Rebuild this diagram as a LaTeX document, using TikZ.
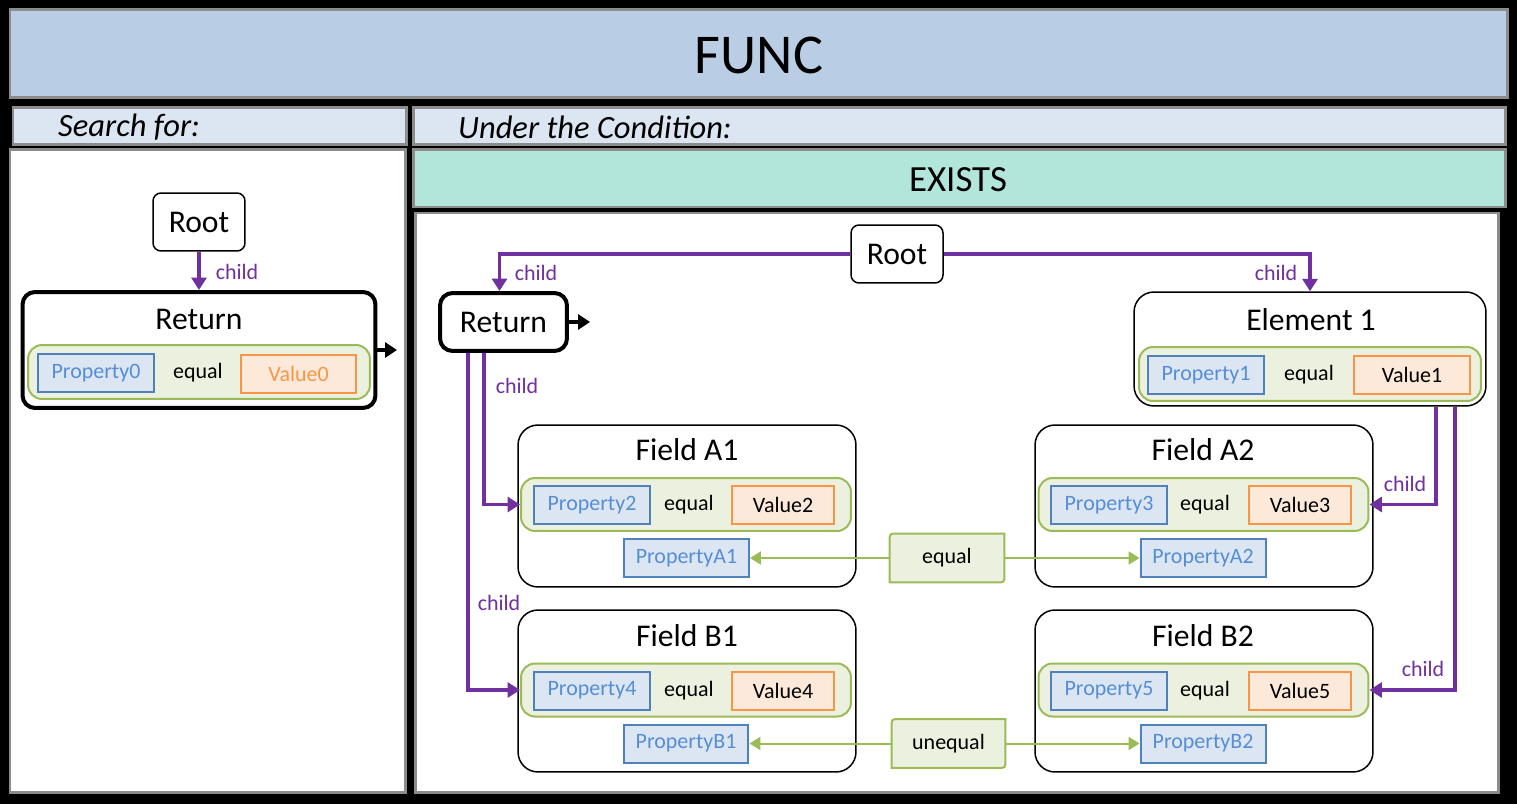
\documentclass[tikz,border=0pt]{standalone}
\usepackage{fontspec}
\setmainfont{Carlito}
\usetikzlibrary{positioning,calc,arrows.meta}

\definecolor{funcblue}{RGB}{185,205,229}
\definecolor{headblue}{RGB}{220,230,242}
\definecolor{existsgreen}{RGB}{179,230,218}
\definecolor{childpurple}{RGB}{112,48,160}
\definecolor{condgreen}{RGB}{155,187,89}
\definecolor{condfill}{RGB}{235,241,222}
\definecolor{propline}{RGB}{79,129,189}
\definecolor{propfill}{RGB}{220,230,242}
\definecolor{proptext}{RGB}{85,142,213}
\definecolor{valline}{RGB}{247,150,70}
\definecolor{valfill}{RGB}{253,233,217}

\tikzset{
  bandedge/.style={draw=black!45, line width=0.06cm},
  titletext/.style={font=\fontsize{32}{38}\selectfont},
  headtext/.style={font=\fontsize{18.5}{22}\selectfont\itshape},
  existstext/.style={font=\fontsize{21}{25}\selectfont},
  bigtext/.style={font=\fontsize{18}{22}\selectfont},
  smalltext/.style={font=\fontsize{12.5}{15}\selectfont},
  rootbox/.style={draw, fill=white, line width=0.03cm, rounded corners=0.16cm, minimum width=1.84cm, minimum height=1.16cm, bigtext},
  retbox/.style={draw, fill=white, line width=0.08cm, rounded corners=0.25cm, bigtext},
  fieldbox/.style={draw, line width=0.03cm, rounded corners=0.4cm, minimum width=6.76cm, minimum height=3.24cm},
  rowbox/.style={draw=condgreen, fill=condfill, line width=0.04cm, rounded corners=0.28cm, minimum width=6.6cm, minimum height=1.06cm},
  propbox/.style={draw=propline, fill=propfill, text=proptext, line width=0.04cm, inner sep=0pt, minimum width=2.32cm, minimum height=0.76cm, smalltext},
  valbox/.style={draw=valline, fill=valfill, line width=0.04cm, inner sep=0pt, minimum width=2.04cm, minimum height=0.76cm, smalltext},
  condnode/.style={minimum width=2.28cm, minimum height=0.96cm},
  childline/.style={draw=childpurple, line width=0.07cm, -{Triangle[length=0.25cm,width=0.3cm]}},
  childtext/.style={text=childpurple, smalltext},
  condline/.style={draw=condgreen, line width=0.04cm, -{Triangle[length=0.22cm,width=0.26cm]}},
  retarrow/.style={line width=0.08cm, -{Triangle[length=0.24cm,width=0.3cm]}},
}

% frame of a condition box: top left and bottom right corners rounded
\newcommand{\condframe}[1]{%
  \draw[condgreen, fill=condfill, line width=0.04cm] (#1.south west) -- ([yshift=-0.14cm]#1.north west)
    .. controls (#1.north west) .. ([xshift=0.14cm]#1.north west) -- (#1.north east)
    -- ([yshift=0.14cm]#1.south east) .. controls (#1.south east) .. ([xshift=-0.14cm]#1.south east) -- cycle;}

\begin{document}
\begin{tikzpicture}[x=0.02cm, y=-0.02cm]
  % Background and bands
  \fill[black] (0,0) rectangle (1517,804);
  \filldraw[fill=funcblue, bandedge] (10,10) rectangle (1507,98);
  \filldraw[fill=headblue, bandedge] (13,108) rectangle (406,145);
  \filldraw[fill=headblue, bandedge] (413,108) rectangle (1505,145);
  \filldraw[fill=white, bandedge] (10,150) rectangle (405,792);
  \filldraw[fill=existsgreen, bandedge] (413,150) rectangle (1505,207);
  \filldraw[fill=white, bandedge] (415,213) rectangle (1498,792);

  % Headers
  \node[titletext] (func) at (759,55) {FUNC};
  \node[headtext, anchor=west] (searchfor) at (52,127) {Search for:};
  \node[headtext, anchor=west] (condition) at (452,127) {Under the Condition:};
  \node[existstext] (exists) at (958,180) {EXISTS};

  % Search for
  \node[rootbox] (lroot) at (199,222) {Root};
  \node[retbox, minimum width=7.06cm, minimum height=2.32cm] (lret) at (199,350) {};
  \node[bigtext] (lrettitle) at (199,319) {Return};
  \node[rowbox, minimum width=6.84cm, minimum height=1.08cm] (lrow) at (199,372) {};
  \node[propbox] (prop0) at (96,373) {Property0};
  \node[smalltext] (leq) at (198,373) {equal};
  \node[valbox, minimum width=2.3cm, text=valline] (val0) at (298.5,374) {Value0};
  \draw[childline] (lroot.south) -- (lret.north);
  \node[childtext] (lchild) at (237,272) {child};
  \coordinate (lout) at (397,350);
  \draw[retarrow] (lret) -- (lout);

  % Under the condition: root and return
  \node[rootbox] (rroot) at (897,254) {Root};
  \node[retbox, minimum width=2.54cm, minimum height=1.16cm] (rret) at (503.5,322) {Return};
  \coordinate (rout) at (590,322);
  \draw[retarrow] (rret) -- (rout);

  % Element 1
  \node[fieldbox, minimum width=7.04cm, minimum height=2.28cm] (elem) at (1310,349) {};
  \node[bigtext] (elemtitle) at (1311,320) {Element 1};
  \node[rowbox, minimum width=6.84cm, minimum height=1.08cm] (elemrow) at (1310,374) {};
  \node[propbox] (prop1) at (1206,375) {Property1};
  \node[smalltext] (eq1) at (1309,375) {equal};
  \node[valbox, minimum width=2.32cm] (val1) at (1412,375) {Value1};

  % Field A1
  \node[fieldbox] (fa1) at (687,506) {};
  \node[bigtext] (fa1title) at (687,450) {Field A1};
  \node[rowbox] (rowa1) at (686,504.5) {};
  \node[propbox] (prop2) at (592,505) {Property2};
  \node[smalltext] (eq2) at (689,505) {equal};
  \node[valbox] (val2) at (783,505) {Value2};
  \node[propbox, minimum width=2.5cm] (pa1) at (686.5,558) {PropertyA1};

  % Field A2
  \node[fieldbox] (fa2) at (1204,506) {};
  \node[bigtext] (fa2title) at (1203,450) {Field A2};
  \node[rowbox] (rowa2) at (1203.5,504.5) {};
  \node[propbox] (prop3) at (1109,505) {Property3};
  \node[smalltext] (eq3) at (1205,505) {equal};
  \node[valbox] (val3) at (1300,505) {Value3};
  \node[propbox, minimum width=2.5cm] (pa2) at (1203,558) {PropertyA2};

  % Field B1
  \node[fieldbox] (fb1) at (687,691) {};
  \node[bigtext] (fb1title) at (687,636) {Field B1};
  \node[rowbox] (rowb1) at (686,690) {};
  \node[propbox] (prop4) at (592,690.5) {Property4};
  \node[smalltext] (eq4) at (689,690.5) {equal};
  \node[valbox] (val4) at (783,690.5) {Value4};
  \node[propbox, minimum width=2.5cm] (pb1) at (686,743.5) {PropertyB1};

  % Field B2
  \node[fieldbox] (fb2) at (1204,691) {};
  \node[bigtext] (fb2title) at (1203,636) {Field B2};
  \node[rowbox] (rowb2) at (1203.5,690) {};
  \node[propbox] (prop5) at (1109,690.5) {Property5};
  \node[smalltext] (eq5) at (1205,690.5) {equal};
  \node[valbox] (val5) at (1300,690.5) {Value5};
  \node[propbox, minimum width=2.5cm] (pb2) at (1203,743.5) {PropertyB2};

  % Conditions between fields
  \node[condnode] (eqa) at (947,558) {};
  \condframe{eqa}
  \node[smalltext] (eqatext) at (eqa) {equal};
  \draw[condline] (eqa.west) -- (pa1.east);
  \draw[condline] (eqa.east) -- (pa2.west);
  \node[condnode, minimum width=2.26cm] (uneqb) at (948.5,743.5) {};
  \condframe{uneqb}
  \node[smalltext] (uneqbtext) at (uneqb) {unequal};
  \draw[condline] (uneqb.west) -- (pb1.east);
  \draw[condline] (uneqb.east) -- (pb2.west);

  % Child links
  \draw[childline] (rroot.west) -| ([xshift=-0.08cm]rret.north);
  \draw[childline] (rroot.east) -| (elem.north);
  \draw[childline] ([xshift=-0.39cm]rret.south) |- (rowa1.west);
  \draw[childline] ([xshift=-0.71cm]rret.south) |- (rowb1.west);
  \draw[childline] ([xshift=2.52cm]elem.south) |- (rowa2.east);
  \draw[childline] ([xshift=2.9cm]elem.south) |- (rowb2.east);
  \node[childtext] (c1) at (536,273) {child};
  \node[childtext] (c2) at (1276,273) {child};
  \node[childtext] (c3) at (517,386) {child};
  \node[childtext] (c4) at (499,603) {child};
  \node[childtext] (c5) at (1405,484) {child};
  \node[childtext] (c6) at (1423,669) {child};
\end{tikzpicture}
\end{document}
